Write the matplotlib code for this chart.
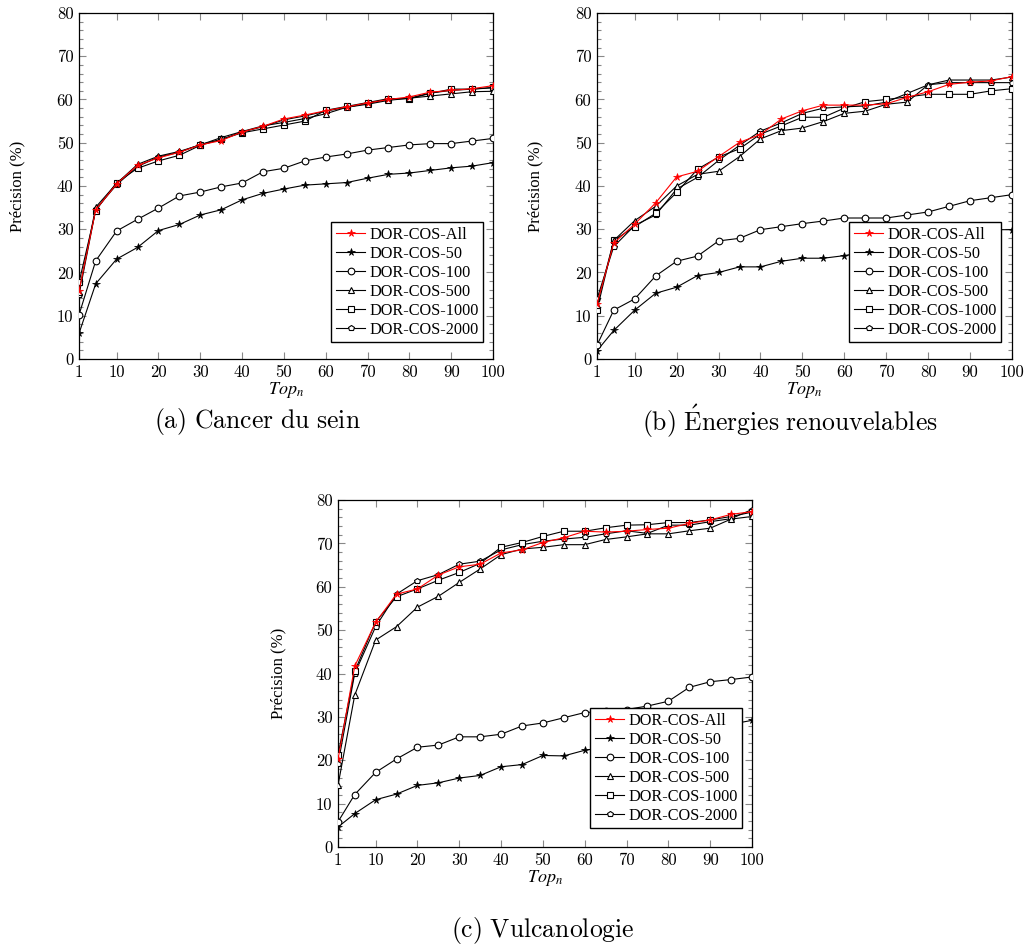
import matplotlib
matplotlib.use("Agg")
import matplotlib.pyplot as plt
from matplotlib.ticker import MultipleLocator

# Top-n cut-offs
top_n = [1, 5, 10, 15, 20, 25, 30, 35, 40, 45, 50, 55, 60, 65, 70, 75, 80, 85, 90, 95, 100]

series_names = ["DOR-COS-All", "DOR-COS-50", "DOR-COS-100",
                "DOR-COS-500", "DOR-COS-1000", "DOR-COS-2000"]

# (a) Cancer du sein
sein_all = [15.7, 34.5, 40.5, 44.8, 46.5, 47.8, 49.5, 50.5, 52.5, 53.8, 55.5,
            56.4, 57.4, 58.3, 59.2, 60.0, 60.6, 61.7, 62.1, 62.5, 63.2]
sein_50 = [5.9, 17.4, 23.1, 25.8, 29.7, 31.1, 33.3, 34.5, 36.8, 38.3, 39.3,
           40.2, 40.5, 40.8, 41.8, 42.7, 43.0, 43.6, 44.2, 44.6, 45.4]
sein_100 = [10.2, 22.7, 29.6, 32.3, 34.9, 37.7, 38.6, 39.8, 40.7, 43.3, 44.1,
            45.8, 46.7, 47.4, 48.3, 48.9, 49.5, 49.8, 49.8, 50.4, 51.0]
sein_500 = [15.5, 35.1, 40.6, 45.0, 46.9, 48.0, 49.5, 51.2, 52.6, 53.9, 54.7,
            55.6, 56.7, 58.2, 58.9, 59.8, 60.3, 60.8, 61.3, 61.8, 61.9]
sein_1000 = [17.7, 34.3, 40.8, 44.1, 45.8, 47.1, 49.4, 50.8, 52.3, 53.2, 54.1,
             55.0, 57.5, 58.4, 59.3, 60.2, 60.2, 61.4, 62.4, 62.4, 62.8]
sein_2000 = [14.8, 34.6, 40.3, 44.5, 46.7, 47.8, 49.6, 50.7, 52.5, 53.7, 55.3,
             56.2, 57.3, 58.2, 59.1, 60.0, 60.3, 61.5, 62.1, 62.4, 62.7]

# (b) Énergies renouvelables
ener_all = [12.7, 26.8, 31.2, 36.1, 42.1, 43.4, 46.8, 50.1, 51.9, 55.5, 57.4,
            58.7, 58.7, 58.7, 59.0, 60.5, 61.8, 63.5, 64.0, 64.3, 65.3]
ener_50 = [1.9, 6.6, 11.3, 15.2, 16.6, 19.3, 20.0, 21.3, 21.3, 22.6, 23.3,
           23.3, 23.9, 24.8, 25.9, 27.0, 28.0, 29.2, 29.9, 29.9, 29.9]
ener_100 = [3.2, 11.3, 13.9, 19.2, 22.6, 23.8, 27.3, 27.9, 29.9, 30.6, 31.3,
            31.9, 32.6, 32.6, 32.6, 33.3, 34.0, 35.3, 36.6, 37.3, 38.0]
ener_500 = [12.5, 27.4, 32.0, 35.3, 40.0, 42.7, 43.4, 46.8, 50.9, 52.8, 53.4,
            54.9, 56.8, 57.3, 58.9, 59.4, 63.4, 64.5, 64.5, 64.5, 65.2]
ener_1000 = [11.3, 27.4, 30.6, 33.7, 38.5, 43.9, 46.7, 48.6, 52.0, 53.9, 55.9,
             55.9, 58.0, 59.5, 60.0, 60.6, 61.2, 61.2, 61.2, 62.0, 62.5]
ener_2000 = [13.9, 26.0, 30.9, 33.3, 39.3, 42.0, 45.9, 49.4, 52.7, 54.6, 56.8,
             58.0, 58.3, 58.5, 59.4, 61.4, 63.4, 63.9, 63.9, 63.9, 63.9]

# (c) Vulcanologie
vulc_all = [20.2, 41.7, 51.8, 58.3, 59.5, 62.7, 64.6, 65.2, 67.8, 68.5, 70.2,
            71.3, 72.8, 72.6, 72.8, 73.2, 73.5, 74.6, 75.4, 76.7, 77.3]
vulc_50 = [4.6, 7.7, 10.9, 12.2, 14.2, 14.8, 15.9, 16.5, 18.5, 19.0, 21.1,
           21.0, 22.3, 23.0, 24.0, 25.0, 26.0, 27.0, 27.7, 28.3, 29.2]
vulc_100 = [5.8, 12.1, 17.2, 20.3, 23.0, 23.5, 25.4, 25.4, 26.0, 27.9, 28.6,
            29.8, 31.0, 31.3, 31.7, 32.5, 33.6, 36.8, 38.1, 38.6, 39.2]
vulc_500 = [14.2, 35.0, 47.7, 50.8, 55.3, 57.8, 61.0, 64.1, 67.4, 68.7, 69.1,
            69.7, 69.7, 70.9, 71.5, 72.2, 72.2, 72.9, 73.5, 75.6, 76.2]
vulc_1000 = [21.2, 40.5, 51.9, 57.7, 59.5, 61.5, 63.3, 65.4, 69.1, 70.2, 71.6,
             72.8, 72.8, 73.6, 74.2, 74.3, 74.8, 74.8, 75.4, 76.2, 77.2]
vulc_2000 = [19.1, 40.0, 50.8, 58.3, 61.4, 62.8, 65.2, 65.9, 68.5, 69.7, 70.5,
             71.0, 71.4, 72.2, 72.9, 72.3, 74.2, 74.2, 75.0, 75.7, 77.8]

# Subfigure captions, typeset in Computer Modern
captions = [r"$\mathrm{(a)\ Cancer\ du\ sein}$",
            r"$\mathrm{(b)\ \acute{E}nergies\ renouvelables}$",
            r"$\mathrm{(c)\ Vulcanologie}$"]

x_ticks = [1, 10, 20, 30, 40, 50, 60, 70, 80, 90, 100]
y_ticks = [0, 10, 20, 30, 40, 50, 60, 70, 80]

styles = [
    dict(color="red", marker="*", ms=5.5, mfc="red", mec="red", mew=0.5),
    dict(color="black", marker="*", ms=5.5, mfc="black", mec="black", mew=0.5),
    dict(color="black", marker="o", ms=4.8, mfc="white", mec="black", mew=0.8),
    dict(color="black", marker="^", ms=4.0, mfc="white", mec="black", mew=0.8),
    dict(color="black", marker="s", ms=4.6, mfc="white", mec="black", mew=0.8),
    dict(color="black", marker="p", ms=4.2, mfc="white", mec="black", mew=0.8),
]

datasets = [
    [sein_all, sein_50, sein_100, sein_500, sein_1000, sein_2000],
    [ener_all, ener_50, ener_100, ener_500, ener_1000, ener_2000],
    [vulc_all, vulc_50, vulc_100, vulc_500, vulc_1000, vulc_2000],
]

W, H = 1026, 947
fig = plt.figure(figsize=(W / 100, H / 100), dpi=100)

# axes boxes in pixels: left, top, right, bottom
boxes = [(79, 13, 493, 359), (597, 13, 1012, 359), (338, 500, 752, 847)]
ylabel_right = [25, 543, 286]
caption_pos = [(257, 421), (790, 421), (543, 930)]
legend_box = [(331, 222), (849, 222), (590, 708)]  # upper-left of legend, pixels

draw_order = [1, 2, 5, 4, 3, 0]

for i, (l, t, r, b) in enumerate(boxes):
    ax = fig.add_axes([l / W, 1 - b / H, (r - l) / W, (b - t) / H])
    lines = [None] * 6
    for k in draw_order:
        (ln,) = ax.plot(top_n, datasets[i][k], lw=0.8, label=series_names[k],
                        zorder=4 if k == 0 else 3, **styles[k])
        lines[k] = ln
    ax.set_xlim(1, 100)
    ax.set_ylim(0, 80)
    ax.set_xticks(x_ticks)
    ax.set_yticks(y_ticks)
    ax.set_xticklabels([str(v) for v in x_ticks], fontfamily="cmr10", fontsize=12)
    ax.set_yticklabels([str(v) for v in y_ticks], fontfamily="cmr10", fontsize=12)
    ax.yaxis.set_minor_locator(MultipleLocator(2))
    ax.tick_params(which="both", direction="in", top=True, right=True,
                   color="#888888", width=0.8)
    ax.tick_params(which="major", length=5, pad=4)
    ax.tick_params(which="minor", length=3)
    for sp in ax.spines.values():
        sp.set_linewidth(0.9)
    ax.set_xlabel(r"$Top_n$", fontsize=13, math_fontfamily="stix", labelpad=0)
    ax.set_ylabel("Précision (%)", fontfamily="Liberation Serif", fontsize=12)
    ax.yaxis.set_label_coords((ylabel_right[i] - l) / (r - l), 0.5)

    lx, ly = legend_box[i]
    leg = ax.legend(lines, series_names, loc="upper left",
                    bbox_to_anchor=((lx - l) / (r - l), (b - ly) / (b - t)),
                    borderaxespad=0,
                    prop={"family": "Liberation Serif", "size": 11.7},
                    frameon=True, fancybox=False, edgecolor="black",
                    handlelength=1.8, handletextpad=0.25, labelspacing=0.18,
                    borderpad=0.3, framealpha=1)
    leg.get_frame().set_linewidth(1.0)
    leg.set_zorder(10)

    cx, cy = caption_pos[i]
    fig.text(cx / W, 1 - cy / H, captions[i], ha="center", va="center",
             fontsize=18.5, math_fontfamily="cm")

fig.savefig("out.png", dpi=100)
